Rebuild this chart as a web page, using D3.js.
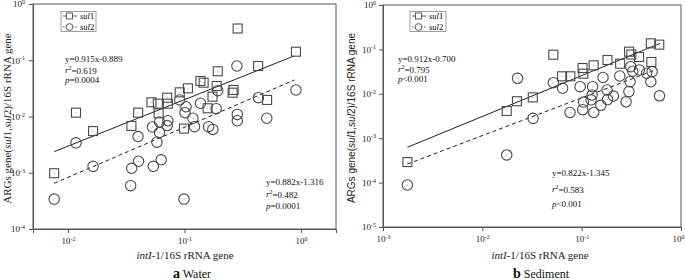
<!DOCTYPE html>
<html><head><meta charset="utf-8">
<script src="https://cdn.jsdelivr.net/npm/d3@7"></script>
<style>body{margin:0;background:#fff}svg{display:block}</style>
</head><body>
<svg id="c" width="685" height="280"></svg>
<script>
// ---------- DATA ----------
const waterSul1 = [[0.0076,0.00098],[0.0117,0.0117],[0.0164,0.0055],[0.035,0.0068],[0.040,0.0117],[0.052,0.0179],[0.059,0.0169],[0.071,0.0216],[0.072,0.0169],[0.060,0.0114],[0.091,0.0269],[0.099,0.0061],[0.107,0.0317],[0.137,0.0428],[0.146,0.0399],[0.193,0.0637],[0.189,0.0349],[0.174,0.0225],[0.158,0.014],[0.264,0.0296],[0.259,0.0265],[0.286,0.367],[0.429,0.079],[0.512,0.0197],[0.906,0.142]];
const waterSul2 = [[0.0076,0.00034],[0.0117,0.0034],[0.0164,0.0013],[0.0345,0.00059],[0.0352,0.0012],[0.0403,0.0016],[0.0399,0.0044],[0.053,0.0065],[0.061,0.0080],[0.072,0.0084],[0.071,0.0069],[0.061,0.0052],[0.058,0.0035],[0.054,0.0013],[0.063,0.0017],[0.099,0.00034],[0.091,0.0197],[0.101,0.0117],[0.103,0.0149],[0.118,0.0093],[0.122,0.0066],[0.137,0.0172],[0.161,0.0066],[0.175,0.0059],[0.187,0.0138],[0.193,0.0288],[0.282,0.079],[0.284,0.0109],[0.284,0.0084],[0.431,0.0216],[0.509,0.0093],[0.906,0.0296]];
const sedSul1 = [[0.00176,0.00029],[0.0176,0.0041],[0.0223,0.0068],[0.0322,0.0083],[0.0519,0.076],[0.0635,0.0248],[0.0769,0.0248],[0.102,0.0381],[0.104,0.0284],[0.132,0.0438],[0.182,0.0577],[0.244,0.0476],[0.300,0.0888],[0.316,0.0768],[0.378,0.0674],[0.497,0.137],[0.604,0.128],[0.503,0.052]];
const sedSul2 = [[0.00176,0.0000883],[0.0176,0.00042],[0.0226,0.0223],[0.0324,0.0028],[0.0519,0.0178],[0.0643,0.0133],[0.0764,0.0038],[0.0964,0.0145],[0.1045,0.0065],[0.1026,0.0044],[0.1288,0.0145],[0.1274,0.0094],[0.1245,0.0073],[0.1324,0.0038],[0.156,0.0055],[0.164,0.0233],[0.180,0.0122],[0.182,0.0074],[0.209,0.0089],[0.242,0.0252],[0.280,0.0066],[0.299,0.0112],[0.307,0.0187],[0.327,0.0323],[0.312,0.0408],[0.381,0.0344],[0.451,0.029],[0.512,0.0315],[0.497,0.0187],[0.607,0.009]];
// regression lines as drawn (start, end)
const waterSul1Fit = [[0.0076,0.00237],[0.87,0.119]];
const waterSul2Fit = [[0.0076,0.00065],[0.88,0.0446]];
const sedSul1Fit = [[0.00176,0.000624],[0.617,0.137]];
const sedSul2Fit = [[0.00176,0.000262],[0.56,0.0349]];
// tick values
const waterXTicks = [0.01, 0.1, 1];
const waterYTicks = [1e-4, 1e-3, 1e-2, 1e-1, 1];
const sedXTicks = [1e-3, 1e-2, 1e-1, 1];
const sedYTicks = [1e-5, 1e-4, 1e-3, 1e-2, 1e-1, 1];
// annotation texts
const waterStats1 = ["0.915x-0.889", "0.619", "p=0.0004"];
const waterStats2 = ["0.882x-1.316", "0.482", "p=0.0001"];
const sedStats1 = ["0.912x-0.700", "0.795", "p<0.001"];
const sedStats2 = ["0.822x-1.345", "0.583", "p<0.001"];
const legendNames = ["1", "2"];
const panelTitles = [["a", "Water"], ["b", "Sediment"]];

// ---------- DRAW ----------
const svg = d3.select("#c");
const SERIF = "'Liberation Serif','Times New Roman',serif";
const SANS = "'Liberation Sans',Arial,sans-serif";
const MK = "#4a4a4a";

function minorTicks(domain) {
  const out = [];
  const lo = Math.floor(Math.log10(domain[0])), hi = Math.ceil(Math.log10(domain[1]));
  for (let e = lo; e <= hi; e++) for (let m = 2; m <= 9; m++) {
    const v = m * Math.pow(10, e);
    if (v >= domain[0] * 0.999 && v <= domain[1] * 1.001) out.push(v);
  }
  return out;
}
const expOf = d => Math.round(Math.log10(d));

function panel(o) {
  const x = d3.scaleLog().domain(o.xd).range([o.x0, o.x1]);
  const y = d3.scaleLog().domain(o.yd).range([o.y1, o.y0]);
  const g = svg.append("g");

  // frame
  g.append("rect").attr("x", o.x0).attr("y", o.y0).attr("width", o.x1 - o.x0).attr("height", o.y1 - o.y0)
    .attr("fill", "none").attr("stroke", "#555").attr("stroke-width", 1);

  // axes
  const xa = g.append("g").attr("transform", `translate(0,${o.y1})`);
  xa.call(d3.axisBottom(x).tickValues(minorTicks(o.xd)).tickSize(3).tickFormat(""));
  xa.call(d3.axisBottom(x).tickValues(o.xt).tickSize(4).tickPadding(5).tickFormat(() => "10"));
  const ya = g.append("g").attr("transform", `translate(${o.x0},0)`);
  ya.call(d3.axisLeft(y).tickValues(minorTicks(o.yd)).tickSize(3).tickFormat(""));
  ya.call(d3.axisLeft(y).tickValues(o.yt).tickSize(4).tickPadding(o.ypad).tickFormat(() => "10"));
  [xa, ya].forEach(a => {
    a.selectAll(".domain").attr("stroke", "#555");
    a.selectAll("line").attr("stroke", "#555");
    a.selectAll("text").attr("font-family", SERIF).attr("font-size", 9).attr("fill", "#222");
    a.selectAll(".tick text").filter(function(){return this.textContent==="10";})
      .append("tspan").attr("dy", "-0.55em").attr("font-size", 6).text(d => expOf(d) === 0 ? "0" : "-" + Math.abs(expOf(d)));
  });
  // keep right-most x label inside the canvas
  xa.selectAll(".tick text").filter(d => x(d) > 675).attr("dx", -3);

  // fit lines
  const line = d3.line().x(d => x(d[0])).y(d => y(d[1]));
  g.append("path").attr("d", line(o.fit1)).attr("stroke", "#222").attr("stroke-width", 1).attr("fill", "none");
  g.append("path").attr("d", line(o.fit2)).attr("stroke", "#222").attr("stroke-width", 1).attr("fill", "none").attr("stroke-dasharray", "4,3");

  // markers
  const s = 4.5;
  g.selectAll(".sq").data(o.s1).join("rect").attr("x", d => x(d[0]) - s).attr("y", d => y(d[1]) - s)
    .attr("width", 2 * s).attr("height", 2 * s).attr("fill", "none").attr("stroke", MK).attr("stroke-width", 1.1);
  g.selectAll(".ci").data(o.s2).join("circle").attr("cx", d => x(d[0])).attr("cy", d => y(d[1])).attr("r", 5.2)
    .attr("fill", "none").attr("stroke", MK).attr("stroke-width", 1.1);
  g.selectAll(".dt").data(o.s1.concat(o.s2)).join("circle").attr("cx", d => x(d[0])).attr("cy", d => y(d[1])).attr("r", 0.5).attr("fill", "#888");

  // legend
  const L = o.leg;
  g.append("rect").attr("x", L[0]).attr("y", L[1]).attr("width", L[2]).attr("height", 20).attr("fill", "none").attr("stroke", "#888").attr("stroke-width", 0.8);
  legendNames.forEach((nm, i) => {
    const yy = L[1] + 4.5 + i * 11;
    const lx = L[0] + 2, mx = L[0] + 8.5;
    g.append("line").attr("x1", lx).attr("x2", lx + 14).attr("y1", yy).attr("y2", yy).attr("stroke", "#333").attr("stroke-width", 0.8)
      .attr("stroke-dasharray", i ? "1.5,1.5" : null);
    if (i === 0) g.append("rect").attr("x", mx - 3).attr("y", yy - 3).attr("width", 6).attr("height", 6).attr("fill", "#fff").attr("stroke", MK).attr("stroke-width", 0.9);
    else g.append("circle").attr("cx", mx).attr("cy", yy).attr("r", 3.4).attr("fill", "#fff").attr("stroke", MK).attr("stroke-width", 0.9);
    const t = g.append("text").attr("x", L[0] + 19).attr("y", yy + 3).attr("font-family", SERIF).attr("font-size", 8.5).attr("font-style", "italic");
    t.append("tspan").text("sul");
    t.append("tspan").attr("font-style", "normal").text(nm);
  });

  // stats
  function stats(arr, px, py, gap) {
    const f = {"font-family": SERIF, "font-size": 9, "fill": "#111"};
    const t1 = g.append("text").attr("x", px).attr("y", py).text("y=" + arr[0]);
    const t2 = g.append("text").attr("x", px).attr("y", py + gap);
    t2.append("tspan").attr("font-style", "italic").text("r");
    t2.append("tspan").attr("dy", "-0.45em").attr("font-size", 6).text("2");
    t2.append("tspan").attr("dy", "0.45em").text("=" + arr[1]);
    const t3 = g.append("text").attr("x", px).attr("y", py + 2 * gap);
    t3.append("tspan").attr("font-style", "italic").text(arr[2][0]);
    t3.append("tspan").text(arr[2].slice(1));
    [t1, t2, t3].forEach(t => Object.entries(f).forEach(([k, v]) => t.attr(k, v)));
  }
  stats(o.st1, o.st1p[0], o.st1p[1], o.st1p[2]);
  stats(o.st2, o.st2p[0], o.st2p[1], o.st2p[2]);

  // y label
  const yl = g.append("text").attr("transform", `translate(${o.ylx},${(o.y0 + o.y1) / 2 + 2}) rotate(-90)`)
    .attr("text-anchor", "middle").attr("font-family", o.yfont).attr("font-size", o.yfs).attr("fill", "#222");
  yl.append("tspan").text("ARGs gene(");
  yl.append("tspan").attr("font-style", "italic").text("sul");
  yl.append("tspan").text("1,");
  yl.append("tspan").attr("font-style", "italic").text("sul");
  yl.append("tspan").text("2)/16S rRNA gene");

  // x label
  const xl = g.append("text").attr("x", o.xlx).attr("y", 259).attr("text-anchor", "middle")
    .attr("font-family", SERIF).attr("font-size", 11).attr("fill", "#222");
  xl.append("tspan").attr("font-style", "italic").text("intI");
  xl.append("tspan").text("-1/16S rRNA gene");

  // panel title
  const pt = g.append("text").attr("x", o.tx).attr("y", 278).attr("text-anchor", "middle").attr("font-family", SERIF).attr("fill", "#111");
  pt.append("tspan").attr("font-weight", "bold").attr("font-size", 14).text(o.title[0]);
  pt.append("tspan").attr("font-size", 12).text(" " + o.title[1]);
}

panel({x0: 33, x1: 336, y0: 4, y1: 229, xd: [0.005, 2], yd: [1e-4, 1], xt: waterXTicks, yt: waterYTicks, ypad: 4,
  s1: waterSul1, s2: waterSul2, fit1: waterSul1Fit, fit2: waterSul2Fit, leg: [61, 11.5, 35],
  st1: waterStats1, st1p: [65, 62, 10.5], st2: waterStats2, st2p: [266, 185, 12],
  ylx: 11, yfont: SERIF, yfs: 11, xlx: 185, tx: 192, title: panelTitles[0]});
panel({x0: 383, x1: 681, y0: 5, y1: 227, xd: [1e-3, 1], yd: [1e-5, 1], xt: sedXTicks, yt: sedYTicks, ypad: 3,
  s1: sedSul1, s2: sedSul2, fit1: sedSul1Fit, fit2: sedSul2Fit, leg: [410, 11.5, 36],
  st1: sedStats1, st1p: [398, 62, 10], st2: sedStats2, st2p: [552, 176, 15.5],
  ylx: 355, yfont: SANS, yfs: 10, xlx: 540, tx: 541, title: panelTitles[1]});
</script>
</body></html>
